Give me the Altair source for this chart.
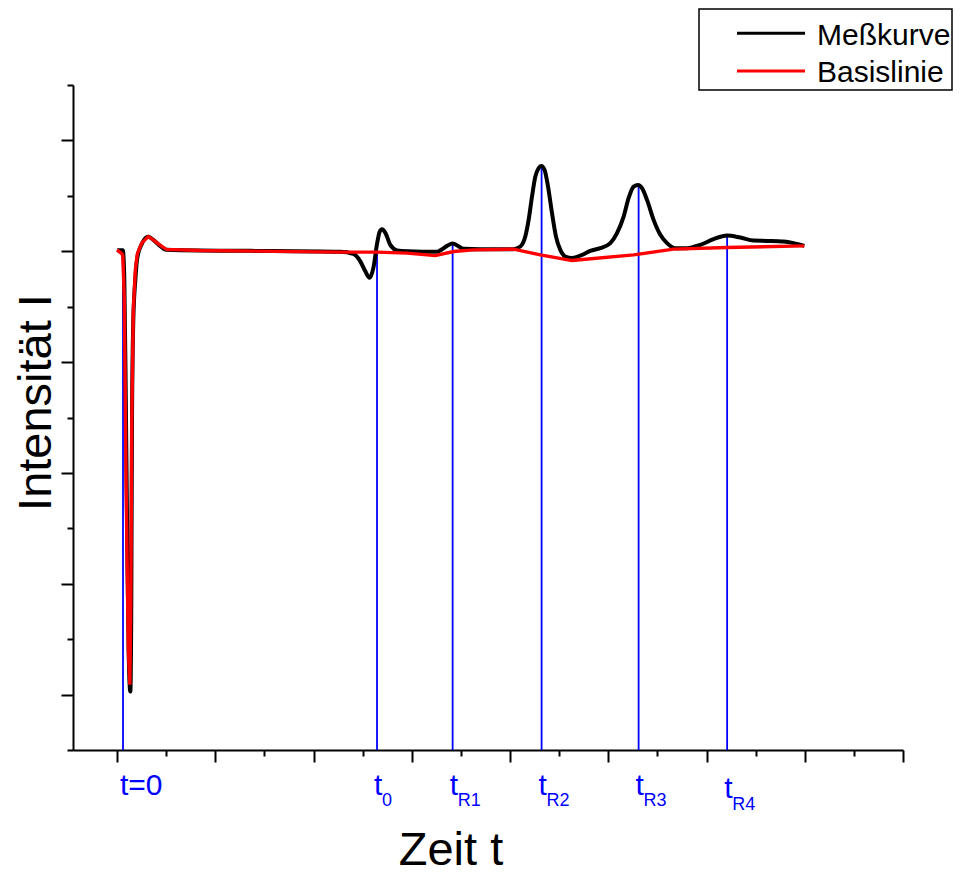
import altair as alt
import pandas as pd

# ---------------- data ----------------
# Meßkurve (black)
meas_t = [0.006, 0.118, 0.149, 0.179, 0.210, 0.240, 0.271, 0.291, 0.305, 0.332,
          0.373, 0.413, 0.505, 0.637, 0.739, 0.841, 1.004, 1.289, 2.713, 4.546,
          4.811, 4.953, 5.055, 5.142, 5.223, 5.293, 5.346, 5.394, 5.462, 5.563,
          5.700, 5.903, 6.514, 6.581, 6.718, 6.832, 6.954, 7.056, 7.395, 8.073,
          8.210, 8.311, 8.379, 8.448, 8.515, 8.582, 8.637, 8.704, 8.774, 8.855,
          8.936, 9.024, 9.126, 9.262, 9.466, 9.635, 9.838, 10.042, 10.178, 10.313,
          10.414, 10.516, 10.606, 10.687, 10.789, 10.923, 11.060, 11.196, 11.365, 11.603,
          11.874, 12.145, 12.417, 12.688, 12.959, 13.232, 13.569, 13.773, 13.991]
meas_i = [8.016, 8.016, 7.484, 5.320, 2.615, 0.631, 0.054, 1.713, 4.959, 6.763,
          7.484, 7.881, 8.133, 8.260, 8.206, 8.124, 8.025, 8.016, 8.007, 7.989,
          7.953, 7.818, 7.637, 7.520, 7.719, 8.133, 8.350, 8.395, 8.332, 8.115,
          8.016, 7.998, 7.989, 8.016, 8.097, 8.142, 8.088, 8.043, 8.034, 8.038,
          8.085, 8.265, 8.566, 8.987, 9.347, 9.499, 9.540, 9.468, 9.167, 8.687,
          8.265, 8.025, 7.904, 7.876, 7.935, 8.007, 8.056, 8.146, 8.326, 8.626,
          8.958, 9.167, 9.197, 9.138, 8.927, 8.566, 8.296, 8.146, 8.056, 8.056,
          8.115, 8.218, 8.283, 8.247, 8.193, 8.187, 8.175, 8.146, 8.097]

# Basislinie (red)
base_t = [0.000, 0.102, 0.118, 0.149, 0.189, 0.230, 0.261, 0.281, 0.301, 0.332,
          0.373, 0.413, 0.505, 0.637, 0.739, 0.841, 1.004, 1.696, 4.546, 5.293,
          5.903, 6.479, 6.852, 7.259, 8.073, 8.617, 9.262, 10.516, 11.330, 12.417,
          13.991]
base_i = [8.025, 7.953, 7.917, 7.124, 3.517, 0.812, 0.180, 1.713, 4.959, 6.943,
          7.665, 7.953, 8.151, 8.265, 8.206, 8.133, 8.034, 8.013, 7.984, 7.984,
          7.966, 7.922, 7.995, 8.025, 8.038, 7.935, 7.832, 7.935, 8.038, 8.067,
          8.097]

# marker lines (blue)
mark_t = [0.122, 5.293, 6.832, 8.643, 10.618, 12.420]
mark_top = [8.007, 7.989, 8.146, 9.540, 9.197, 8.278]
mark_main = ["t=0", "t", "t", "t", "t", "t"]
mark_sub = ["", "0", "R1", "R2", "R3", "R4"]

x_ticks = list(range(0, 17))
y_ticks = list(range(-1, 12))

legend_labels = ["Meßkurve", "Basislinie"]
legend_colors = ["#000000", "#ff0000"]

x_title = "Zeit t"
y_title = "Intensität I"

FONT = "Liberation Sans"
BLUE = "#0000ff"

meas = pd.DataFrame({"t": meas_t, "I": meas_i})
base = pd.DataFrame({"t": base_t, "I": base_i})
marks = pd.DataFrame({"t": mark_t, "top": mark_top, "main": mark_main, "sub": mark_sub,
                      "bottom": [-1] * len(mark_t)})
marks_a = marks.iloc[:-1]
marks_b = marks.iloc[-1:]

tick_cond = {"condition": {"test": "datum.value % 2 === 0", "value": 12}, "value": 6}

x_scale = alt.Scale(domain=[-0.896, 16], nice=False, zero=False)
y_scale = alt.Scale(domain=[-1, 11], nice=False, zero=False)

x_axis = alt.Axis(values=x_ticks, labels=False, grid=False, tickSize=tick_cond,
                  tickWidth=2, tickColor="black", domainColor="black", domainWidth=2,
                  title=x_title, titleFont=FONT, titleFontSize=47, titleFontWeight="normal",
                  titleColor="black", titleX=377.5, titleY=114, titleAlign="center",
                  titleBaseline="alphabetic")
y_axis = alt.Axis(values=y_ticks, labels=False, grid=False, tickSize=tick_cond,
                  tickWidth=2, tickColor="black", domainColor="black", domainWidth=2,
                  title=y_title, titleFont=FONT, titleFontSize=47, titleFontWeight="normal",
                  titleColor="black", titleX=-23, titleY=317, titleAlign="center",
                  titleBaseline="alphabetic", titleAngle=270)

rules = alt.Chart(marks).mark_rule(color=BLUE, strokeWidth=1.8).encode(
    x=alt.X("t:Q", scale=x_scale, axis=x_axis),
    y=alt.Y("bottom:Q", scale=y_scale, axis=y_axis),
    y2="top:Q",
)

black = alt.Chart(meas).mark_line(color="black", strokeWidth=4, interpolate="monotone").encode(
    x=alt.X("t:Q", scale=x_scale), y=alt.Y("I:Q", scale=y_scale)
)
red = alt.Chart(base).mark_line(color="#ff0000", strokeWidth=3.4).encode(
    x=alt.X("t:Q", scale=x_scale), y=alt.Y("I:Q", scale=y_scale)
)

lab_main_a = alt.Chart(marks_a).mark_text(font=FONT, fontSize=30, color=BLUE, align="left",
                                          baseline="alphabetic", dx=-3).encode(
    x=alt.X("t:Q", scale=x_scale), y=alt.value(710), text="main:N")
lab_sub_a = alt.Chart(marks_a).mark_text(font=FONT, fontSize=18, color=BLUE, align="left",
                                         baseline="alphabetic", dx=5).encode(
    x=alt.X("t:Q", scale=x_scale), y=alt.value(721), text="sub:N")
lab_main_b = alt.Chart(marks_b).mark_text(font=FONT, fontSize=30, color=BLUE, align="left",
                                          baseline="alphabetic", dx=-3).encode(
    x=alt.X("t:Q", scale=x_scale), y=alt.value(713), text="main:N")
lab_sub_b = alt.Chart(marks_b).mark_text(font=FONT, fontSize=18, color=BLUE, align="left",
                                         baseline="alphabetic", dx=5).encode(
    x=alt.X("t:Q", scale=x_scale), y=alt.value(725), text="sub:N")

# legend box (drawn manually, top-right outside the plot area)
one = pd.DataFrame({"k": [0]})
leg_box = alt.Chart(one).mark_rect(fill="white", stroke="black", strokeWidth=1.5).encode(
    x=alt.value(626), x2=alt.value(879), y=alt.value(-76), y2=alt.value(5))
leg_line1 = alt.Chart(one).mark_rule(color=legend_colors[0], strokeWidth=3).encode(
    x=alt.value(664), x2=alt.value(732), y=alt.value(-51.7))
leg_line2 = alt.Chart(one).mark_rule(color=legend_colors[1], strokeWidth=3).encode(
    x=alt.value(664), x2=alt.value(732), y=alt.value(-14))
leg_text1 = alt.Chart(one).mark_text(font=FONT, fontSize=30, color="black", align="left",
                                     baseline="alphabetic").encode(
    x=alt.value(744), y=alt.value(-40), text=alt.value(legend_labels[0]))
leg_text2 = alt.Chart(one).mark_text(font=FONT, fontSize=30, color="black", align="left",
                                     baseline="alphabetic").encode(
    x=alt.value(744), y=alt.value(-3.3), text=alt.value(legend_labels[1]))

chart = alt.layer(
    rules, black, red, lab_main_a, lab_sub_a, lab_main_b, lab_sub_b,
    leg_box, leg_line1, leg_line2, leg_text1, leg_text2,
).properties(
    width=830, height=665,
    autosize=alt.AutoSizeParams(type="none"),
    padding={"left": 65, "top": 77, "right": 55, "bottom": 126},
    background="white",
).configure_view(stroke=None)

chart.save("out.html", embed_options={"renderer": "svg", "actions": False})
